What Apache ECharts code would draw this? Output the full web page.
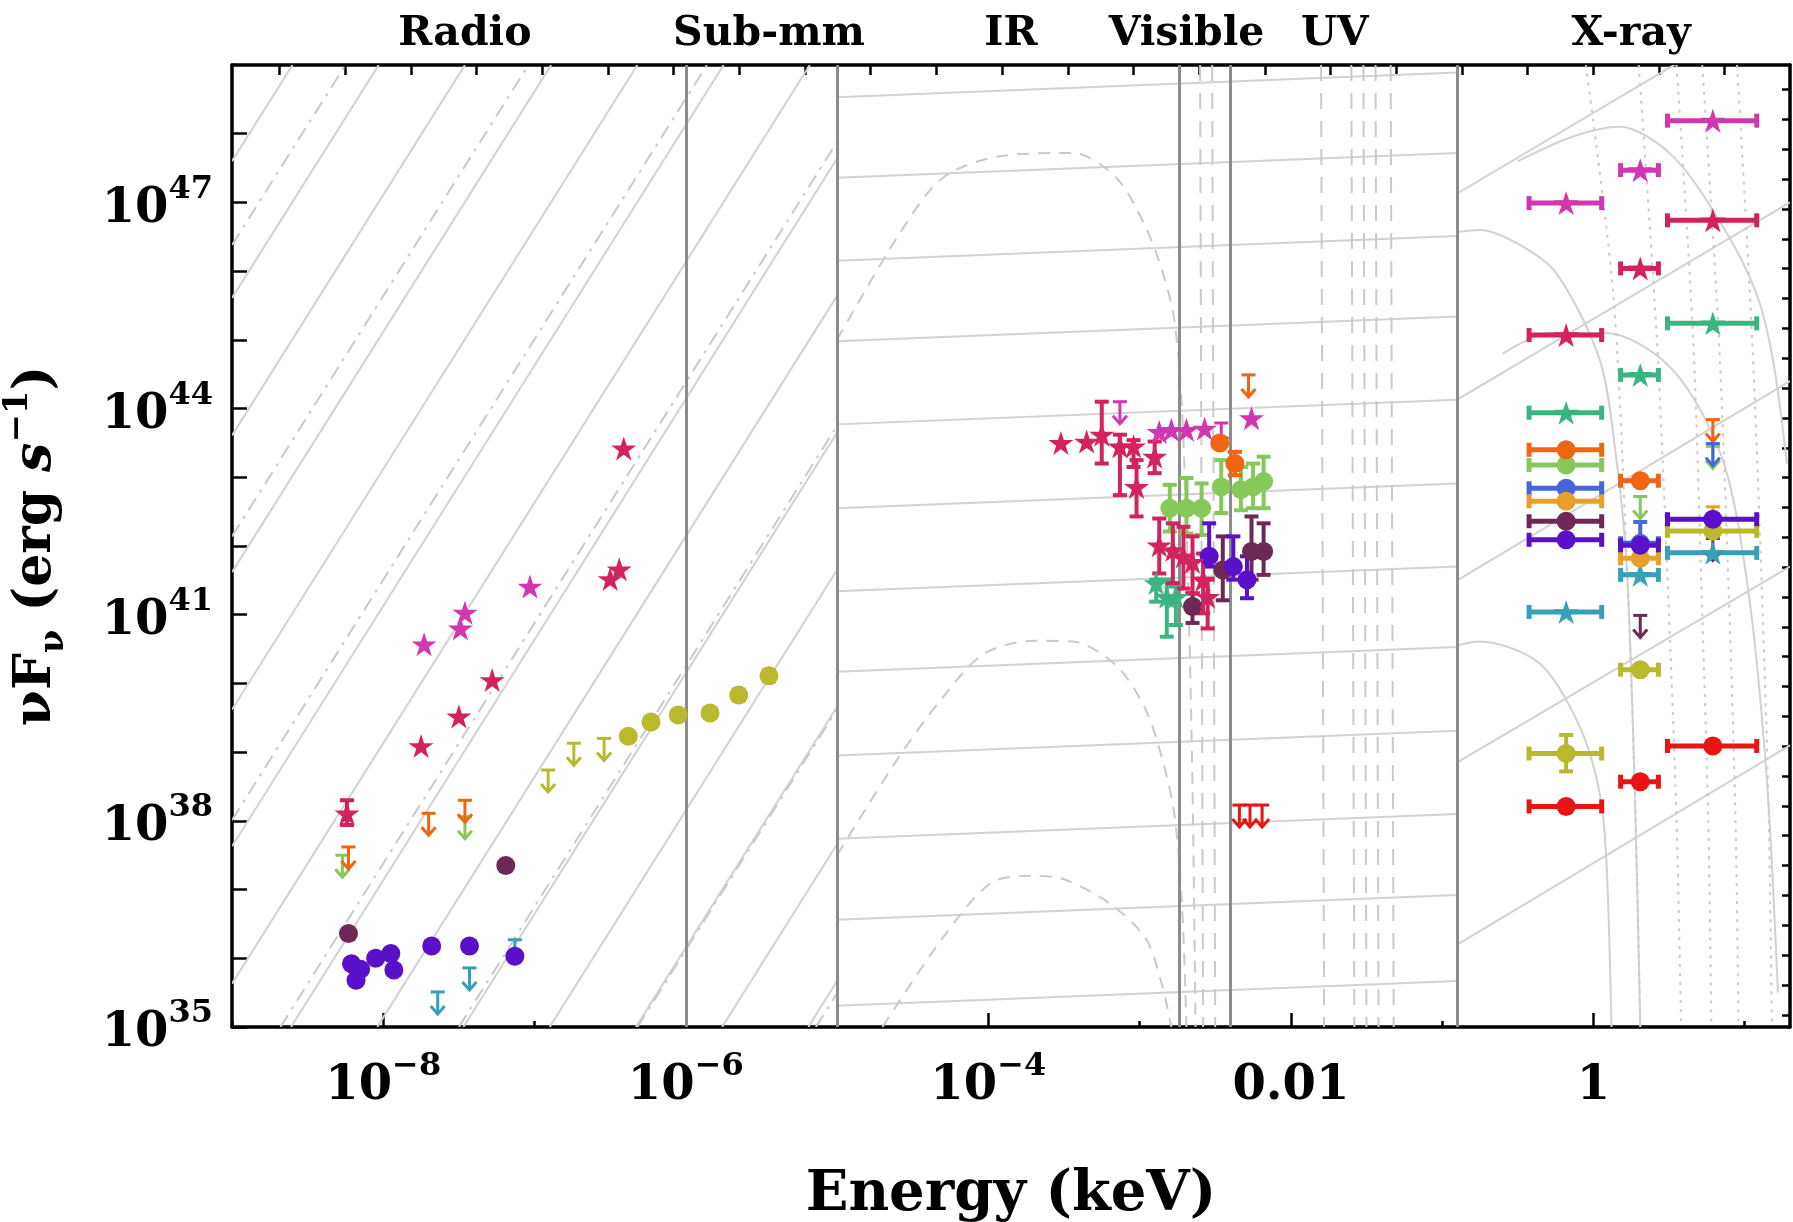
<!DOCTYPE html>
<html><head><meta charset="utf-8">
<script src="https://cdn.jsdelivr.net/npm/echarts@6/dist/echarts.min.js"></script>
<style>html,body{margin:0;padding:0;background:#fff}#chart{width:1793px;height:1222px}</style>
</head><body><div id="chart"></div>
<script>
// ---------- axes (values are log10 of keV / erg s^-1) ----------
const xMin = -9, xMax = 1.3, yMin = 35, yMax = 49;
const xMajorTicks = [-8, -6, -4, -2, 0];
const xTickText = [['10','−8'],['10','−6'],['10','−4'],['0.01',''],['1','']];
const xMinorTicks = [-9, -7, -5, -3, -1, 1];
const yMajorTicks = [35, 38, 41, 44, 47];
const yTickText = [['10','35'],['10','38'],['10','41'],['10','44'],['10','47']];
const yMinorTicks = [36, 37, 39, 40, 42, 43, 45, 46, 48];
const topLnTicks = [-20,-19,-18,-17,-16,-15,-14,-13,-12,-11,-10,-9,-8,-7,-6,-5,-4,-3,-2,-1,0,1,2];
const rightLnTicks = [81,82,83,84,85,86,87,88,89,90,91,92,93,94,95,96,97,98,99,100,101,102,103,104,105,106,107,108,109,110,111,112];
const bandNames = ['Radio','Sub-mm','IR','Visible','UV','X-ray'];
const bandLabelPos = [-7.46, -5.45, -3.85, -2.69, -1.71, 0.25];
const bandEdges = [-6, -5, -2.74, -2.40, -0.90];

// ---------- background model curves ----------
// straight segments [E1, L1, E2, L2]
const radioSolid = [
  [-9,47.60,-8.60,49],[-9,45.61,-8.03,49],[-9,43.61,-7.46,49],[-9,41.62,-6.89,49],
  [-9,39.62,-6.32,49],[-9,37.63,-5.75,49],[-9,35.63,-5.18,49],[-8.61,35,-5,47.64],
  [-8.04,35,-5,45.64],[-7.47,35,-5,43.65],[-6.90,35,-5,41.65],[-6.33,35,-5,39.66],
  [-5.76,35,-5,37.66],[-5.19,35,-5,35.67]];
const radioDashed = [
  [-9,46.38,-8.25,49],[-9,42.14,-7.04,49],[-9,38.01,-5.86,49],[-8.68,35,-5,47.88],
  [-7.50,35,-5,43.75],[-6.32,35,-5,39.62],[-5.14,35,-5,35.49]];
const irSolid = [
  [-5,48.53,-0.9,48.89],[-5,47.36,-0.9,47.72],[-5,46.15,-0.9,46.51],[-5,44.98,-0.9,45.34],
  [-5,43.77,-0.9,44.13],[-5,42.55,-0.9,42.91],[-5,41.34,-0.9,41.70],[-5,40.17,-0.9,40.53],
  [-5,38.95,-0.9,39.31],[-5,37.74,-0.9,38.10],[-5,36.56,-0.9,36.92],[-5,35.31,-0.9,35.67]];
const uvDashed = [
  [-2.60,49,-2.58,35],[-2.52,49,-2.50,35],[-1.80,49,-1.78,35],[-1.60,49,-1.58,35],
  [-1.52,49,-1.50,35],[-1.44,49,-1.42,35],[-1.34,49,-1.32,35]];
const xraySolid = [
  [-0.9,47.13,1.3,50.0],[-0.9,44.13,1.3,47.0],[-0.9,41.5,1.3,44.4],[-0.9,38.85,1.3,41.7],[-0.9,36.2,1.3,39.1]];
// curves [[E, L], ...]
const irDome1 = [[-5,45.0],[-4.6,46.5],[-4.3,47.36],[-3.9,47.68],[-3.44,47.72],[-3.15,47.35],[-2.96,46.64],[-2.85,46.0],[-2.77,45.29],[-2.72,44.0],[-2.68,41.5],[-2.65,38.5],[-2.63,35]];
const irDome2 = [[-5,37.5],[-4.6,38.9],[-4.3,39.8],[-4.03,40.43],[-3.7,40.62],[-3.44,40.61],[-3.15,40.25],[-2.96,39.62],[-2.85,38.9],[-2.77,38.1],[-2.72,36.8],[-2.69,35]];
const irDome3 = [[-4.7,35.0],[-4.3,36.3],[-3.98,37.10],[-3.7,37.2],[-3.5,37.15],[-3.2,36.8],[-2.96,36.29],[-2.85,35.6],[-2.79,35.0]];
const xrayArcA = [[-0.905,46.57],[-0.751,46.60],[-0.5,46.4],[-0.245,45.97],[0.042,44.71],[0.15,43.3],[0.218,41.80],[0.26,39.5],[0.29,37],[0.31,35]];
const xrayArcB = [[-0.6,44.8],[-0.289,45.10],[0.085,45.10],[0.526,44.56],[0.856,43.25],[1.033,41.2],[1.15,38.5],[1.22,35.5]];
const xrayArcC = [[-0.5,47.6],[-0.135,47.96],[0.174,48.10],[0.526,47.67],[0.856,46.65],[1.077,45.68],[1.187,44.71],[1.28,43.2]];
const xrayArcD = [[-0.905,40.55],[-0.751,40.61],[-0.355,40.29],[-0.09,39.37],[0.042,38.40],[0.086,37.43],[0.12,35.0]];
const xrayDot1 = [[-0.05,49],[0.13,45.7],[0.22,41.8],[0.28,38],[0.31,35]];
const xrayDot2 = [[0.30,49],[0.42,45],[0.50,41],[0.55,38],[0.58,35]];
const xrayDot3 = [[0.55,49],[0.66,45],[0.72,41],[0.76,38],[0.78,35]];
const xrayDot4 = [[0.72,49],[0.83,45],[0.90,41],[0.94,38],[0.96,35]];
const xrayDot5 = [[0.95,49],[1.05,45],[1.12,41],[1.16,38],[1.18,35]];

// ---------- data: points [logE, logL]; yErr [logE, lo, hi]; xErr [lo, hi, logL]; UL [logE, logL] ----------
const magentaStars = [[-7.73,40.57],[-7.49,40.80],[-7.46,41.03],[-7.03,41.41],[-2.87,43.66],[-2.79,43.69],[-2.69,43.69],[-2.57,43.71],[-2.26,43.86],[-0.18,46.99],[0.31,47.47],[0.79,48.19]];
const magentaUL = [[-3.13,44.10],[-2.46,43.79]];
const magentaXErr = [[-0.425,0.055,46.99],[0.18,0.43,47.47],[0.49,1.08,48.19]];

const crimsonStars = [[-6.41,43.42],[-6.50,41.52],[-6.44,41.66],[-7.28,40.05],[-7.50,39.52],[-7.75,39.09],[-8.24,38.11],
  [-3.52,43.50],[-3.35,43.52],[-3.25,43.62],[-3.13,43.45],[-3.04,43.45],[-3.02,42.86],[-2.90,43.30],
  [-2.87,42.01],[-2.78,41.94],[-2.71,41.85],[-2.65,41.77],[-2.58,41.51],[-2.55,41.26],
  [-0.18,45.07],[0.31,46.04],[0.79,46.74]];
const crimsonYErr = [[-8.24,37.94,38.30],[-3.25,43.20,44.10],[-3.13,42.74,43.62],[-3.04,43.15,43.54],[-3.02,42.43,43.25],[-2.90,43.06,43.52],
  [-2.87,41.60,42.40],[-2.78,41.46,42.33],[-2.71,41.38,42.28],[-2.65,41.31,42.14],[-2.58,41.02,41.89],[-2.55,40.80,41.51]];
const crimsonXErr = [[-0.425,0.055,45.07],[0.18,0.43,46.04],[0.49,1.08,46.74]];

const tealStars = [[-2.89,41.46],[-2.82,41.26],[-2.76,41.26],[-0.18,43.94],[0.31,44.49],[0.79,45.24]];
const tealYErr = [[-2.89,41.19,41.51],[-2.82,40.68,41.51],[-2.76,40.85,41.41]];
const tealXErr = [[-0.425,0.055,43.94],[0.18,0.43,44.49],[0.49,1.08,45.24]];

const orangeDots = [[-2.47,43.50],[-2.37,43.20],[-0.18,43.40],[0.31,42.95]];
const orangeYErr = [[-2.37,43.03,43.37]];
const orangeUL = [[-8.23,37.62],[-7.70,38.11],[-7.46,38.30],[-2.28,44.49],[0.79,43.84]];
const orangeXErr = [[-0.425,0.055,43.40],[0.18,0.43,42.95]];

const greenDots = [[-2.80,42.55],[-2.69,42.55],[-2.59,42.55],[-2.46,42.86],[-2.33,42.82],[-2.25,42.86],[-2.18,42.94],[-0.18,43.18]];
const greenYErr = [[-2.80,42.21,42.89],[-2.69,42.18,42.99],[-2.59,42.16,42.91],[-2.46,42.48,43.25],[-2.33,42.52,43.15],[-2.25,42.55,43.20],[-2.18,42.55,43.30]];
const greenUL = [[-8.27,37.50],[-7.46,38.06],[0.31,42.72],[0.79,43.45]];
const greenXErr = [[-0.425,0.055,43.18]];

const blueDots = [[-0.18,42.84],[0.31,42.04]];
const blueYErr = [[0.31,41.90,42.35]];
const blueUL = [[0.79,43.49]];
const blueXErr = [[-0.425,0.055,42.84],[0.18,0.43,42.04]];

const goldDots = [[-0.18,42.65],[0.31,41.82]];
const goldUL = [[0.79,42.57]];
const goldXErr = [[-0.425,0.055,42.65],[0.18,0.43,41.82]];

const maroonDots = [[-8.23,36.36],[-7.19,37.35],[-2.65,41.12],[-2.45,41.65],[-2.26,41.92],[-2.18,41.92],[-0.18,42.36]];
const maroonYErr = [[-2.65,40.88,41.31],[-2.45,41.21,42.14],[-2.26,41.51,42.43],[-2.18,41.58,42.33]];
const maroonUL = [[0.31,40.99],[0.79,42.11]];
const maroonXErr = [[-0.425,0.055,42.36]];

const violetDots = [[-8.21,35.92],[-8.15,35.84],[-8.18,35.68],[-8.05,36.00],[-7.95,36.07],[-7.93,35.83],[-7.68,36.18],[-7.43,36.18],[-7.13,36.03],
  [-2.54,41.85],[-2.38,41.70],[-2.29,41.51],[-0.18,42.09],[0.31,42.01],[0.79,42.39]];
const violetYErr = [[-2.54,41.70,42.33],[-2.38,41.51,42.14],[-2.29,41.24,41.85]];
const violetXErr = [[-0.425,0.055,42.09],[0.18,0.43,42.01],[0.49,1.08,42.39]];

const cyanStars = [[-0.18,41.04],[0.31,41.58],[0.79,41.90]];
const cyanUL = [[-7.64,35.51],[-7.43,35.86],[-7.13,36.27]];
const cyanXErr = [[-0.425,0.055,41.04],[0.18,0.43,41.58],[0.49,1.08,41.90]];

const oliveDots = [[-6.38,39.23],[-6.23,39.44],[-6.05,39.54],[-5.84,39.57],[-5.65,39.83],[-5.45,40.11],[-0.18,38.98],[0.31,40.20],[0.79,42.22]];
const oliveYErr = [[-0.18,38.72,39.25],[-5.84,39.50,39.64],[-5.65,39.75,39.91],[-5.45,40.03,40.19]];
const oliveUL = [[-6.91,38.74],[-6.74,39.13],[-6.54,39.20]];
const oliveXErr = [[-0.425,0.055,38.98],[0.18,0.43,40.20],[0.49,1.08,42.22]];

const redDots = [[-0.18,38.21],[0.31,38.57],[0.79,39.09]];
const redUL = [[-2.34,38.23],[-2.27,38.23],[-2.19,38.23]];
const redXErr = [[-0.425,0.055,38.21],[0.18,0.43,38.57],[0.49,1.08,39.09]];

// ---------- styles ----------
const C = {
  magenta:'#d237af', crimson:'#d2235f', teal:'#3cb482', orange:'#f06414', green:'#87c85a',
  blue:'#4664dc', gold:'#e8a028', maroon:'#6e2855', violet:'#5a0fc8', cyan:'#37a0b9',
  olive:'#b9b92d', red:'#eb1414'
};
const STAR = 'path://M50 0 L61.23 34.55 L97.55 34.55 L68.17 55.9 L79.39 90.45 L50 69.1 L20.61 90.45 L31.83 55.9 L2.45 34.55 L38.77 34.55 Z';
const FONT = 'DejaVu Serif';
const GRAY = '#d2d2d2';
const DASHGRAY = '#cacaca';

function segSeries(data, dash, color) {
  return {type:'custom', data, encode:{x:[0,2], y:[1,3]}, clip:true, silent:true, z:1,
    renderItem:(p, api) => {
      const a = api.coord([api.value(0), api.value(1)]), b = api.coord([api.value(2), api.value(3)]);
      return {type:'line', shape:{x1:a[0],y1:a[1],x2:b[0],y2:b[1]},
        style:{stroke:color||GRAY, lineWidth:2, lineDash:dash||null}};
    }};
}
function curveSeries(data, type, color) {
  return {type:'line', data, smooth:0.3, showSymbol:false, clip:true, silent:true, z:1,
    lineStyle:{color:color||GRAY, width:2, type:type||'solid'}};
}
function markerSeries(data, color, star) {
  return {type:'scatter', data, symbol: star ? STAR : 'circle', symbolSize: star ? [25,24] : 19,
    itemStyle:{color, opacity:1}, silent:true, z:6};
}
function yErrSeries(data, color) {
  return {type:'custom', data, encode:{x:0, y:[1,2]}, silent:true, z:5,
    renderItem:(p, api) => {
      const x = api.value(0);
      const a = api.coord([x, api.value(1)]), b = api.coord([x, api.value(2)]);
      const st = {stroke:color, lineWidth:4};
      return {type:'group', children:[
        {type:'line', shape:{x1:a[0],y1:a[1],x2:b[0],y2:b[1]}, style:st},
        {type:'line', shape:{x1:a[0]-7,y1:a[1],x2:a[0]+7,y2:a[1]}, style:st},
        {type:'line', shape:{x1:b[0]-7,y1:b[1],x2:b[0]+7,y2:b[1]}, style:st}]};
    }};
}
function xErrSeries(data, color) {
  return {type:'custom', data, encode:{x:[0,1], y:2}, silent:true, z:5,
    renderItem:(p, api) => {
      const y = api.value(2);
      const a = api.coord([api.value(0), y]), b = api.coord([api.value(1), y]);
      const st = {stroke:color, lineWidth:5};
      return {type:'group', children:[
        {type:'line', shape:{x1:a[0],y1:a[1],x2:b[0],y2:b[1]}, style:st},
        {type:'line', shape:{x1:a[0],y1:a[1]-7,x2:a[0],y2:a[1]+7}, style:st},
        {type:'line', shape:{x1:b[0],y1:b[1]-7,x2:b[0],y2:b[1]+7}, style:st}]};
    }};
}
function ulSeries(data, color) {
  return {type:'custom', data, encode:{x:0, y:1}, silent:true, z:5,
    renderItem:(p, api) => {
      const a = api.coord([api.value(0), api.value(1)]);
      const st = {stroke:color, lineWidth:3};
      const L = 22;
      return {type:'group', children:[
        {type:'line', shape:{x1:a[0]-7,y1:a[1],x2:a[0]+7,y2:a[1]}, style:st},
        {type:'line', shape:{x1:a[0],y1:a[1],x2:a[0],y2:a[1]+L}, style:st},
        {type:'polyline', shape:{points:[[a[0]-7,a[1]+L-8],[a[0],a[1]+L],[a[0]+7,a[1]+L-8]]}, style:Object.assign({fill:null}, st)}]};
    }};
}

const series = [
  segSeries(radioSolid, null),
  segSeries(radioDashed, [14,7,3,7], DASHGRAY),
  segSeries(irSolid, null),
  segSeries(uvDashed, [16,12], DASHGRAY),
  segSeries(xraySolid, null),
  curveSeries(irDome1, [12,9], DASHGRAY), curveSeries(irDome2, [12,9], DASHGRAY), curveSeries(irDome3, [12,9], DASHGRAY),
  curveSeries(xrayArcA), curveSeries(xrayArcB), curveSeries(xrayArcC), curveSeries(xrayArcD),
  curveSeries(xrayDot1, [3,6], DASHGRAY), curveSeries(xrayDot2, [3,6], DASHGRAY), curveSeries(xrayDot3, [3,6], DASHGRAY),
  curveSeries(xrayDot4, [3,6], DASHGRAY), curveSeries(xrayDot5, [3,6], DASHGRAY),
  {type:'line', data:[], silent:true, z:2,
    markLine:{silent:true, symbol:['none','none'], label:{show:false}, animation:false,
      lineStyle:{color:'#8c8c8c', width:3, type:'solid'}, data: bandEdges.map(v => ({xAxis:v}))}}
];
function addSource(color, star, pts, yerr, xerr, ul) {
  if (yerr) series.push(yErrSeries(yerr, color));
  if (xerr) series.push(xErrSeries(xerr, color));
  if (ul) series.push(ulSeries(ul, color));
  if (pts) series.push(markerSeries(pts, color, star));
}
addSource(C.red, false, redDots, null, redXErr, redUL);
addSource(C.olive, false, oliveDots, oliveYErr, oliveXErr, oliveUL);
addSource(C.cyan, true, cyanStars, null, cyanXErr, cyanUL);
addSource(C.teal, true, tealStars, tealYErr, tealXErr, null);
addSource(C.green, false, greenDots, greenYErr, greenXErr, greenUL);
addSource(C.orange, false, orangeDots, orangeYErr, orangeXErr, orangeUL);
addSource(C.blue, false, blueDots, blueYErr, blueXErr, blueUL);
addSource(C.gold, false, goldDots, null, goldXErr, goldUL);
addSource(C.maroon, false, maroonDots, maroonYErr, maroonXErr, maroonUL);
addSource(C.violet, false, violetDots, violetYErr, violetXErr, null);
addSource(C.crimson, true, crimsonStars, crimsonYErr, crimsonXErr, null);
addSource(C.magenta, true, magentaStars, null, magentaXErr, magentaUL);

function findIdx(arr, v) { return arr.findIndex(a => Math.abs(a - v) < 1e-6); }
const richNum = {
  b:{fontFamily:FONT, fontWeight:'bold', fontSize:48, color:'#000', lineHeight:72},
  s:{fontFamily:FONT, fontWeight:'bold', fontSize:32, color:'#000', lineHeight:28, verticalAlign:'top'}
};
function tickFmt(ticks, texts) {
  return v => { const i = findIdx(ticks, v); if (i < 0) return ''; const t = texts[i];
    return '{b|' + t[0] + '}' + (t[1] ? '{s|' + t[1] + '}' : ''); };
}
const blackLine = {show:true, onZero:false, lineStyle:{color:'#000', width:3.5}};
const noLine = {show:false, onZero:false};

const option = {
  animation:false,
  backgroundColor:'#fff',
  grid:{left:232, top:65, width:1558, height:962, containLabel:false, outerBoundsMode:'none'},
  xAxis:[
    {type:'value', min:xMin, max:xMax, position:'bottom', axisLine:blackLine,
      axisTick:{show:true, inside:true, length:14, customValues:xMajorTicks, lineStyle:{color:'#000', width:2.5}},
      axisLabel:{show:true, customValues:xMajorTicks, formatter:tickFmt(xMajorTicks, xTickText), rich:richNum, margin:24},
      splitLine:{show:false},
      name:'Energy (keV)', nameLocation:'middle', nameGap:140,
      nameTextStyle:{fontFamily:FONT, fontWeight:'bold', fontSize:56, color:'#000'}},
    {type:'value', min:xMin, max:xMax, position:'bottom', axisLine:noLine,
      axisTick:{show:true, inside:true, length:6, customValues:xMinorTicks, lineStyle:{color:'#000', width:2.5}},
      axisLabel:{show:false}, splitLine:{show:false}},
    {type:'value', min:xMin*Math.LN10, max:xMax*Math.LN10, position:'top', axisLine:blackLine,
      axisTick:{show:true, inside:true, length:10, customValues:topLnTicks, lineStyle:{color:'#000', width:2.5}},
      axisLabel:{show:false}, splitLine:{show:false}},
    {type:'value', min:xMin, max:xMax, position:'top', axisLine:noLine, axisTick:{show:false},
      axisLabel:{show:true, customValues:bandLabelPos, margin:10,
        formatter:v => { const i = findIdx(bandLabelPos, v); return i < 0 ? '' : bandNames[i]; },
        fontFamily:FONT, fontWeight:'bold', fontSize:41, color:'#000'},
      splitLine:{show:false}}
  ],
  yAxis:[
    {type:'value', min:yMin, max:yMax, position:'left', axisLine:blackLine,
      axisTick:{show:true, inside:true, length:15, customValues:yMajorTicks, lineStyle:{color:'#000', width:2.5}},
      axisLabel:{show:true, customValues:yMajorTicks, formatter:tickFmt(yMajorTicks, yTickText), rich:richNum, margin:19, padding:[14,0,0,0]},
      splitLine:{show:false},
      name:'{t|νF}{sub|ν}{t| (erg }{it|s}{sup|−1}{t|)}', nameLocation:'middle', nameGap:161, nameRotate:90,
      nameTextStyle:{rich:{
        t:{fontFamily:FONT, fontWeight:'bold', fontSize:52, color:'#000', lineHeight:70},
        it:{fontFamily:FONT, fontWeight:'bold', fontStyle:'italic', fontSize:52, color:'#000', lineHeight:70},
        sub:{fontFamily:FONT, fontWeight:'bold', fontSize:34, color:'#000', lineHeight:40, verticalAlign:'bottom'},
        sup:{fontFamily:FONT, fontWeight:'bold', fontSize:34, color:'#000', lineHeight:36, verticalAlign:'top'}}}},
    {type:'value', min:yMin, max:yMax, position:'left', axisLine:noLine,
      axisTick:{show:true, inside:true, length:15, customValues:yMinorTicks, lineStyle:{color:'#000', width:2.5}},
      axisLabel:{show:false}, splitLine:{show:false}},
    {type:'value', min:yMin*Math.LN10, max:yMax*Math.LN10, position:'right', axisLine:blackLine,
      axisTick:{show:true, inside:true, length:8, customValues:rightLnTicks, lineStyle:{color:'#000', width:2.5}},
      axisLabel:{show:false}, splitLine:{show:false}}
  ],
  series
};
const chart = echarts.init(document.getElementById('chart'), null, {renderer:'canvas'});
chart.setOption(option);
</script></body></html>
